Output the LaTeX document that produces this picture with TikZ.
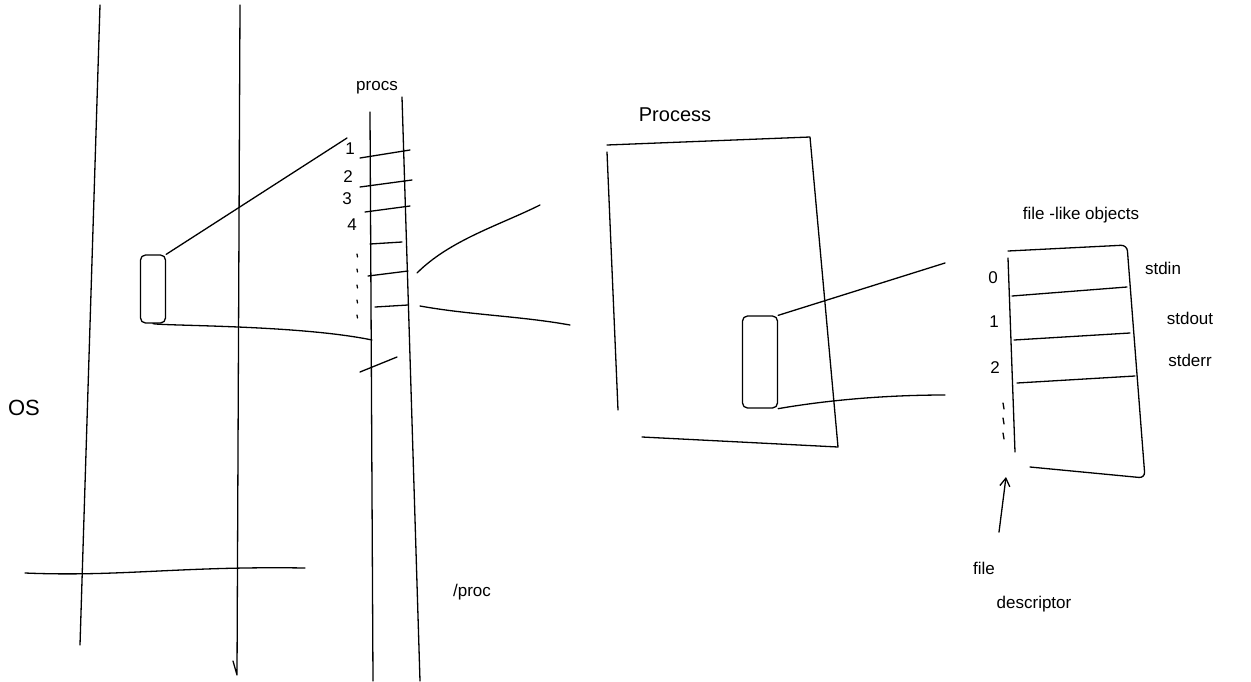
\documentclass[tikz,border=0pt]{standalone}
\usepackage{fontspec}
\setmainfont{Liberation Sans}
\usetikzlibrary{positioning, arrows.meta}
\tikzset{
  pen/.style={line width=1.3pt, line cap=round, line join=round},
  hand/.style={font=\fontsize{17}{19}\selectfont, inner sep=1pt},
  slot/.style={pen, draw, rounded corners=5pt, minimum width=25pt, minimum height=68pt, inner sep=0pt},
}
\begin{document}
\begin{tikzpicture}[x=1pt, y=-1pt, pen]
  \useasboundingbox (0,0) rectangle (1251,681);
  % OS memory
  \draw (100,5) -- (80,645);
  \draw (240,5) -- (237,675) -- (233,661);
  \draw (25,573) .. controls (120,577) and (180,566) .. (305,568);
  \node[hand, font=\fontsize{22}{24}\selectfont] (os) at (24,408) {OS};
  \node[hand] (procdir) at (472,592) {/proc};
  % process entry in memory
  \node[slot] (entry) at (153,289) {};
  % procs table
  \coordinate (pl-t) at (370,112);
  \coordinate (pl-b) at (373,681);
  \coordinate (pr-t) at (402,97);
  \coordinate (pr-b) at (420,681);
  \draw (pl-t) -- (pl-b);
  \draw (pr-t) -- (pr-b);
  \node[hand] (procs) at (377,88) {procs};
  \foreach \xa/\ya/\xb/\yb in {360/158/410/150, 360/187/412/180, 365/212/410/206,
      370/244/402/242, 368/276/408/271, 375/307/408/305, 360/372/397/357}
    \draw (\xa,\ya) -- (\xb,\yb);
  \node[hand] (n1) at (350,149) {1};
  \node[hand] (n2) at (348,177) {2};
  \node[hand] (n3) at (347,199) {3};
  \node[hand] (n4) at (352,225) {4};
  \foreach \y in {254,269,285,300,315}
    \draw (357,\y) -- (357.5,\y+3);
  \coordinate (c1) at (347,138);
  \coordinate (c7) at (372,340);
  \draw (entry.north east) -- (c1);
  \draw (entry.south) .. controls (165,326) and (300,325) .. (c7);
  % process
  \coordinate (p-tl) at (607,145);
  \coordinate (p-tr) at (810,137);
  \coordinate (p-bl) at (642,437);
  \coordinate (p-br) at (838,447);
  \draw (p-tl) -- (p-tr) -- (p-br) -- (p-bl);
  \draw (607,152) -- (618,410);
  \node[hand, font=\fontsize{20}{22}\selectfont] (process) at (675,115) {Process};
  \coordinate (e-t) at (417,273);
  \coordinate (e-b) at (420,306);
  \draw (e-t) .. controls (450,240) and (500,225) .. (540,205);
  \draw (e-b) .. controls (470,315) and (520,316) .. (570,325);
  % file descriptor slot
  \node[slot, minimum width=35pt, minimum height=92pt] (fdslot) at (760,362) {};
  \coordinate (ft) at (945,263);
  \coordinate (fb) at (945,395);
  \draw (fdslot.north east) -- (ft);
  \draw (fdslot.south east) .. controls (840,398) and (900,395) .. (fb);
  % file-like objects table
  \draw (1008,258) -- (1015,452);
  \draw[rounded corners=6pt] (1008,251) -- (1127,245) -- (1145,478) -- (1030,467);
  \draw (1012,296) -- (1127,287);
  \draw (1014,340) -- (1130,333);
  \draw (1017,383) -- (1135,376);
  \node[hand] (objs) at (1081,215) {file -like objects};
  \node[hand] (fd0) at (993,278) {0};
  \node[hand] (fd1) at (994,322) {1};
  \node[hand] (fd2) at (995,368) {2};
  \foreach \y in {403,418,433}
    \draw (1003,\y) -- (1004,\y+6);
  \node[hand] (stdin) at (1163,268) {stdin};
  \node[hand] (stdout) at (1190,318) {stdout};
  \node[hand] (stderr) at (1190,360) {stderr};
  \node[hand] (fdfile) at (984,568) {file};
  \node[hand] (fddesc) at (1034,604) {descriptor};
  \coordinate (fdtip) at (1006,477);
  \draw[-{Straight Barb[length=8pt, width=10pt]}] (fdfile.north) ++(15,-28) -- (fdtip);
\end{tikzpicture}
\end{document}
